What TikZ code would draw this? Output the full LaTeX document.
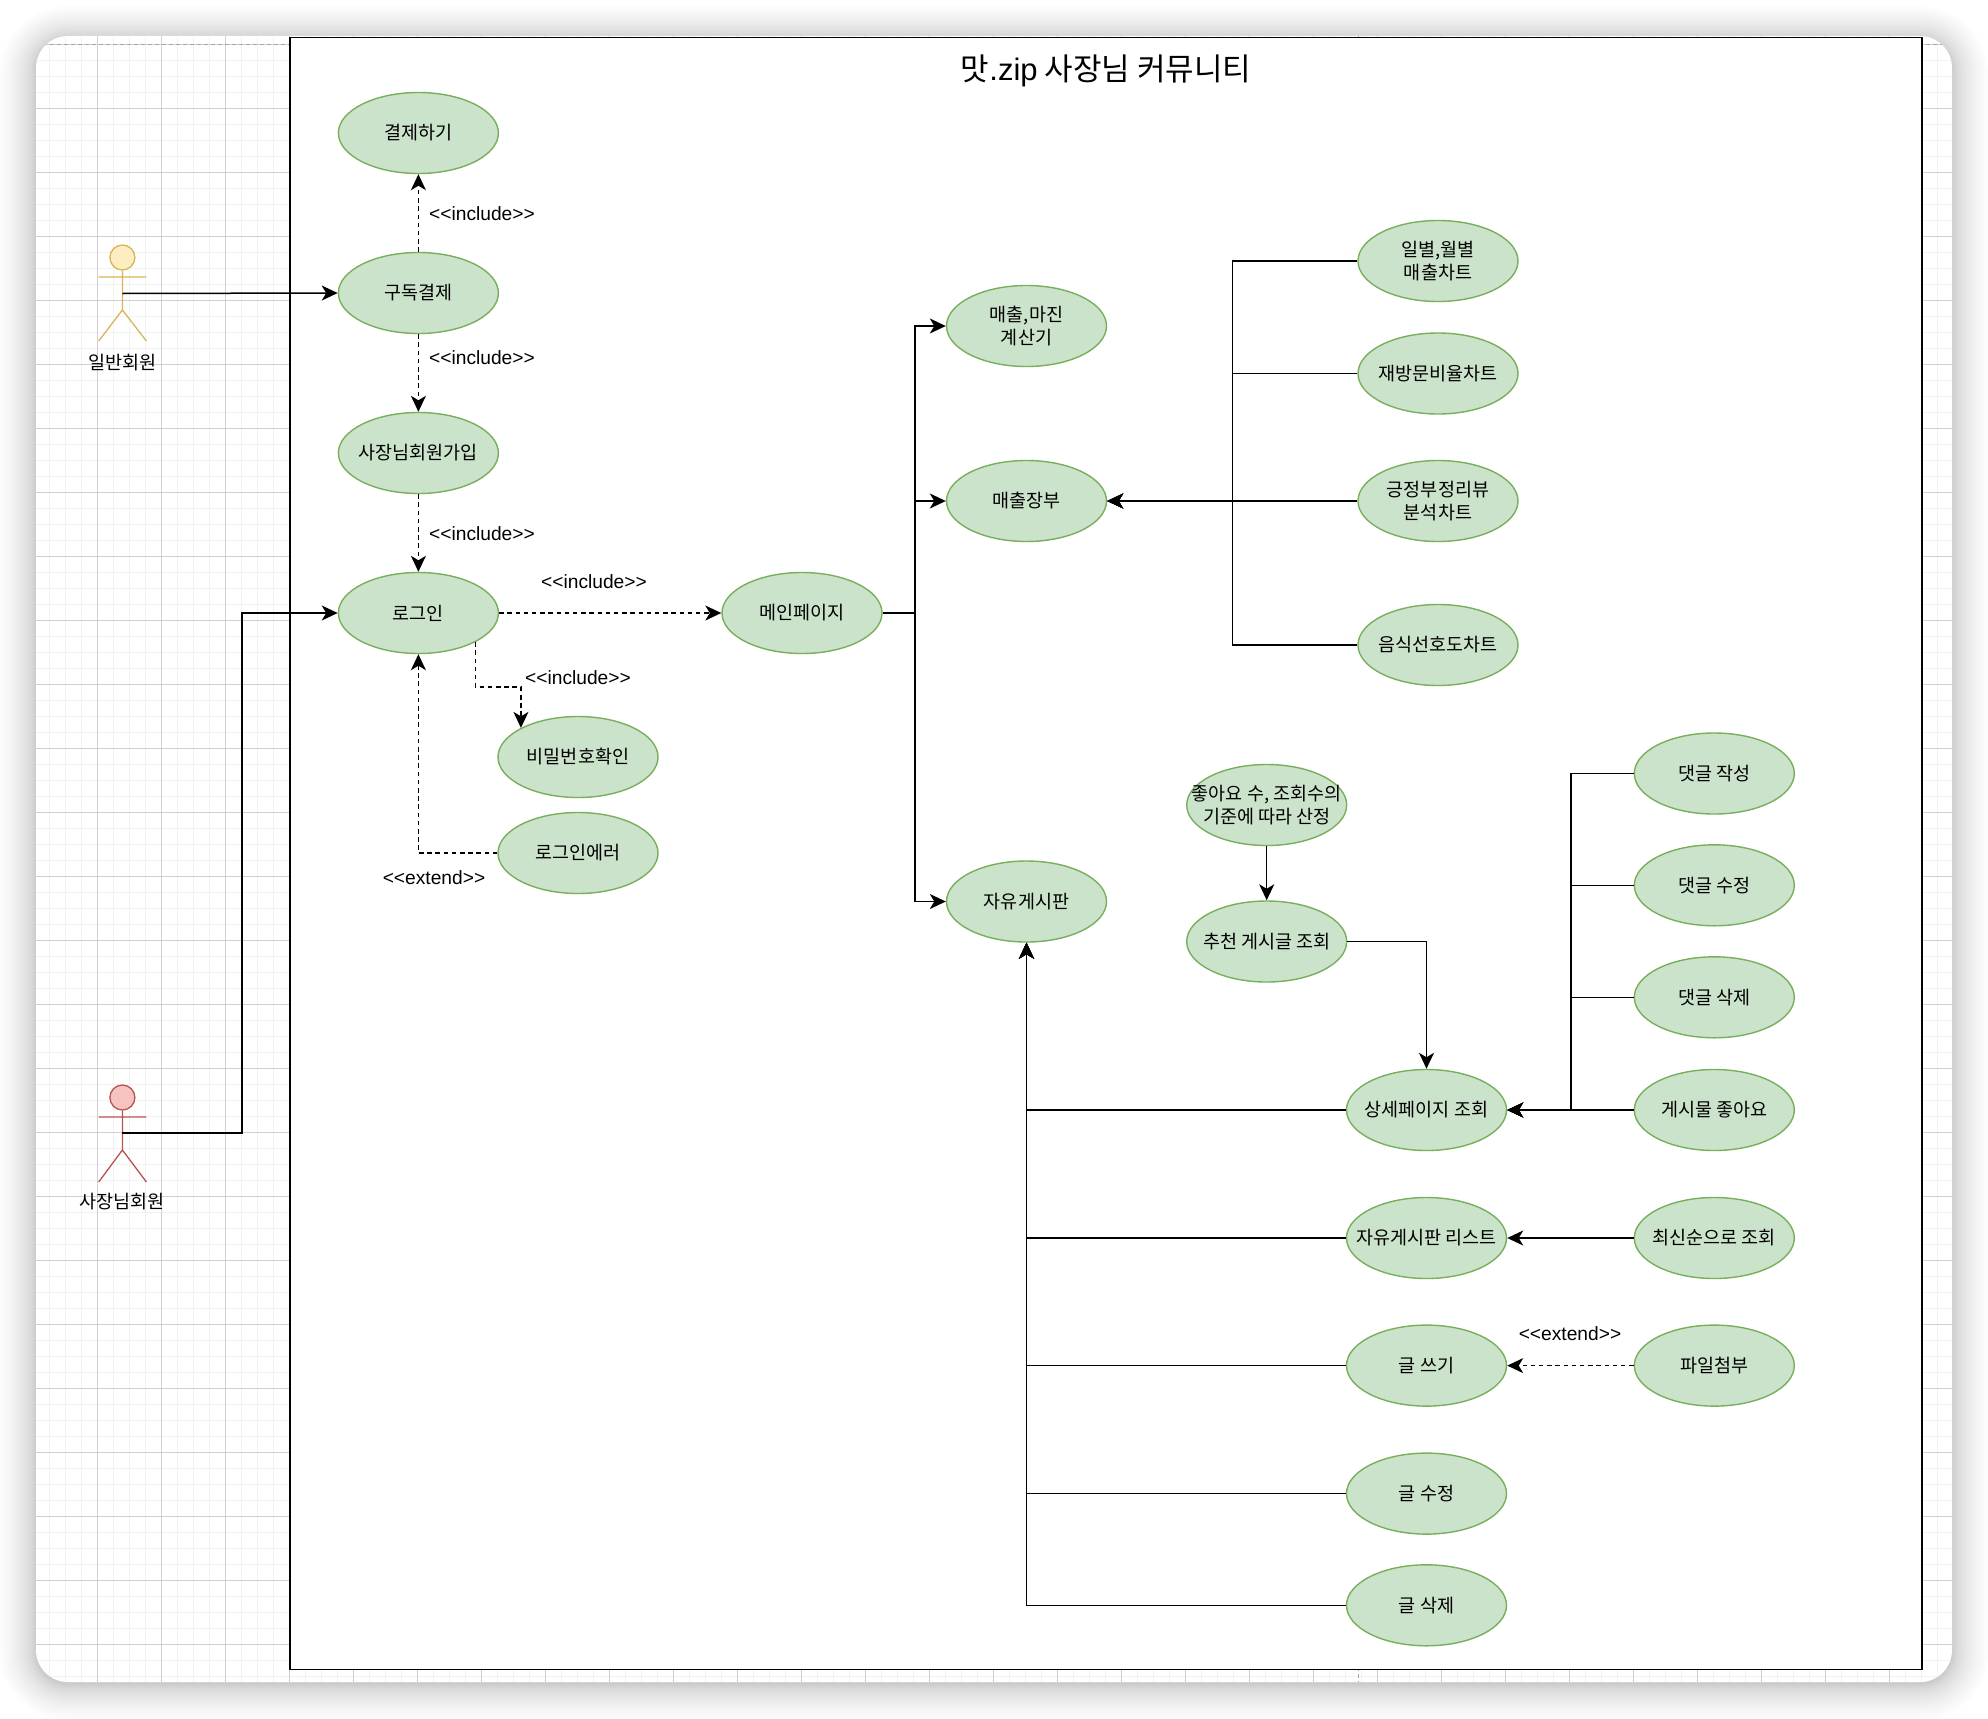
\documentclass[tikz,border=0pt]{standalone}
\usepackage{fontspec}
\usetikzlibrary{arrows.meta,shapes.geometric}
\setmainfont{Noto Sans CJK KR}
\newfontfamily\latinfont{Liberation Sans}
\definecolor{casefill}{HTML}{CCE3CB}
\definecolor{caseline}{HTML}{78AF5C}
\definecolor{gridmajor}{HTML}{D0D0D0}
\definecolor{gridminor}{HTML}{F2F2F2}
\definecolor{memberline}{HTML}{D6B656}
\definecolor{memberfill}{HTML}{FDEDC0}
\definecolor{ownerline}{HTML}{B85450}
\definecolor{ownerfill}{HTML}{F6C3C1}
\tikzset{
    usecase/.style={ellipse, minimum width=160pt, minimum height=81pt, inner xsep=-35pt, inner ysep=0pt,
        fill=casefill, draw=caseline, line width=1.4pt, align=center, font=\fontsize{18.5}{23}\selectfont},
    flow/.style={-{Stealth[length=16pt,width=15pt,inset=4.5pt]}, line width=1.5pt, black},
    plain/.style={line width=1.5pt, black},
    dep/.style={flow, dash pattern=on 4.5pt off 3.7pt},
    stereo/.style={font=\latinfont\fontsize{19.2}{23}\selectfont, inner sep=0pt},
    actorlabel/.style={font=\fontsize{18.5}{23}\selectfont, inner sep=0pt},
}
\begin{document}
\begin{tikzpicture}[x=1pt, y=-1pt]
    \useasboundingbox (0,0) rectangle (1988,1718);
    % page shadow
    \foreach \k in {0,...,17} {
        \pgfmathsetmacro{\s}{1+35*(\k/17)^1.7}
        \fill[black, opacity=0.012, rounded corners={(32+\s)*1pt}] (36-\s,39-0.9*\s) rectangle (1952+\s,1684+\s);
    }
    \fill[white, rounded corners=32pt] (36,36) rectangle (1952,1682);

    % grid
    \begin{scope}
        \clip[rounded corners=32pt] (36,36) rectangle (1952,1682);
        \foreach \i in {-4,...,120} {
            \draw[gridminor, line width=1.5pt] (33.4+16*\i,36) -- (33.4+16*\i,1682);
            \draw[gridminor, line width=1.5pt] (36,44.3+16*\i) -- (1952,44.3+16*\i);
        }
        \foreach \i in {0,...,29}
            \draw[gridmajor, line width=1pt] (33.4+64*\i,36) -- (33.4+64*\i,1682);
        \foreach \i in {0,...,25}
            \draw[gridmajor, line width=1pt] (36,44.3+64*\i) -- (1952,44.3+64*\i);
        \draw[gray!70, line width=1pt, dash pattern=on 4pt off 3pt] (36,45) -- (1952,45);
        \draw[gray!70, line width=1pt, dash pattern=on 4pt off 3pt] (1358,36) -- (1358,1682);
    \end{scope}

    % system frame
    \node[draw=black, fill=white, line width=1.6pt, inner sep=0pt, minimum width=1632pt, minimum height=1632pt] at (1106,853.5) (frame) {};
    \node[font=\fontsize{31}{36}\selectfont, inner sep=0pt] at (1106,71) (title) {맛{\latinfont .zip} 사장님 커뮤니티};

    % actors
    \node[circle, draw=memberline, fill=memberfill, line width=1.3pt, minimum size=25pt, inner sep=0pt] at (122.4,257.5) (memberhead) {};
    \draw[draw=memberline, line width=1.3pt] (memberhead.south) -- (122.4,310) (98.7,277) -- (146.4,277) (98.7,341) -- (122.4,310) -- (146.4,341);
    \coordinate (member) at (122.4,293.5);
    \node[actorlabel] at (122.4,363) (memberlabel) {일반회원};

    \node[circle, draw=ownerline, fill=ownerfill, line width=1.3pt, minimum size=25pt, inner sep=0pt] at (122.4,1097.5) (ownerhead) {};
    \draw[draw=ownerline, line width=1.3pt] (ownerhead.south) -- (122.4,1150) (98.7,1117) -- (146.4,1117) (98.7,1182) -- (122.4,1150) -- (146.4,1182);
    \coordinate (owner) at (122.4,1133);
    \node[actorlabel] at (122.4,1202) (ownerlabel) {사장님회원};

    % use cases, left column
    \node[usecase] at (418.4,133) (pay) {결제하기};
    \node[usecase] at (418.4,293) (subscribe) {구독결제};
    \node[usecase] at (418.4,453) (join) {사장님회원가입};
    \node[usecase] at (418.4,613) (login) {로그인};
    \node[usecase] at (802,613) (mainpage) {메인페이지};
    \node[usecase] at (578,757) (password) {비밀번호확인};
    \node[usecase] at (578,853) (loginerr) {로그인에러};

    % use cases, sales
    \node[usecase] at (1026.5,326) (calc) {매출,마진\\계산기};
    \node[usecase] at (1026.5,501) (ledger) {매출장부};
    \node[usecase] at (1438,261) (daily) {일별,월별\\매출차트};
    \node[usecase] at (1438,373.5) (revisit) {재방문비율차트};
    \node[usecase] at (1438,501) (review) {긍정부정리뷰\\분석차트};
    \node[usecase] at (1438,645) (food) {음식선호도차트};

    % use cases, board
    \node[usecase] at (1026.5,901.5) (board) {자유게시판};
    \node[usecase] at (1266.7,805) (likes) {좋아요 수, 조회수의\\기준에 따라 산정};
    \node[usecase] at (1266.7,941.5) (recommend) {추천 게시글 조회};
    \node[usecase] at (1426.5,1110) (detail) {상세페이지 조회};
    \node[usecase] at (1426.5,1238) (boardlist) {자유게시판 리스트};
    \node[usecase] at (1426.5,1365.6) (write) {글 쓰기};
    \node[usecase] at (1426.5,1493.6) (edit) {글 수정};
    \node[usecase] at (1426.5,1605.3) (delete) {글 삭제};
    \node[usecase] at (1714.3,773.5) (cwrite) {댓글 작성};
    \node[usecase] at (1714.3,885.3) (cedit) {댓글 수정};
    \node[usecase] at (1714.3,997.3) (cdelete) {댓글 삭제};
    \node[usecase] at (1714.3,1110) (like) {게시물 좋아요};
    \node[usecase] at (1714.3,1238) (latest) {최신순으로 조회};
    \node[usecase] at (1714.3,1365.6) (attach) {파일첨부};

    % trunks
    \coordinate (maintrunk) at (915,613);
    \coordinate (logintrunk) at (242,613);
    \coordinate (salestrunk) at (1232.5,501);
    \coordinate (commenttrunk) at (1571,1110);

    % actor connectors
    \draw[flow] (member) -- (subscribe.west);
    \draw[flow] (owner) -| (logintrunk) -- (login.west);

    % dependencies
    \draw[dep] (subscribe.north) -- (pay.south);
    \draw[dep] (subscribe.south) -- (join.north);
    \draw[dep] (join.south) -- (login.north);
    \draw[dep] (login.east) -- (mainpage.west);
    \draw[dep] (login.south east) -- ++(0,45) -| (password.north west);
    \draw[dep] (loginerr.west) -| (login.south);
    \draw[dep] (attach.west) -- (write.east);

    \node[stereo] at (482,214) (inc1) {<{}<include>{}>};
    \node[stereo] at (482,358) (inc2) {<{}<include>{}>};
    \node[stereo] at (482,534) (inc3) {<{}<include>{}>};
    \node[stereo] at (594,582) (inc4) {<{}<include>{}>};
    \node[stereo] at (578,678) (inc5) {<{}<include>{}>};
    \node[stereo] at (434,878) (ext1) {<{}<extend>{}>};
    \node[stereo] at (1570,1334) (ext2) {<{}<extend>{}>};

    % main page
    \draw[plain] (mainpage.east) -- (maintrunk);
    \draw[flow] (maintrunk) |- (calc.west);
    \draw[flow] (maintrunk) |- (ledger.west);
    \draw[flow] (maintrunk) |- (board.west);

    % charts
    \draw[flow] (daily.west) -| (salestrunk) -- (ledger.east);
    \draw[flow] (revisit.west) -| (salestrunk) -- (ledger.east);
    \draw[flow] (review.west) -- (ledger.east);
    \draw[flow] (food.west) -| (salestrunk) -- (ledger.east);

    % board
    \draw[flow] (likes.south) -- (recommend.north);
    \draw[flow] (recommend.east) -| (detail.north);
    \draw[flow] (cwrite.west) -| (commenttrunk) -- (detail.east);
    \draw[flow] (cedit.west) -| (commenttrunk) -- (detail.east);
    \draw[flow] (cdelete.west) -| (commenttrunk) -- (detail.east);
    \draw[flow] (like.west) -- (detail.east);
    \draw[flow] (latest.west) -- (boardlist.east);
    \draw[flow] (detail.west) -| (board.south);
    \draw[flow] (boardlist.west) -| (board.south);
    \draw[flow] (write.west) -| (board.south);
    \draw[flow] (edit.west) -| (board.south);
    \draw[flow] (delete.west) -| (board.south);
\end{tikzpicture}
\end{document}
